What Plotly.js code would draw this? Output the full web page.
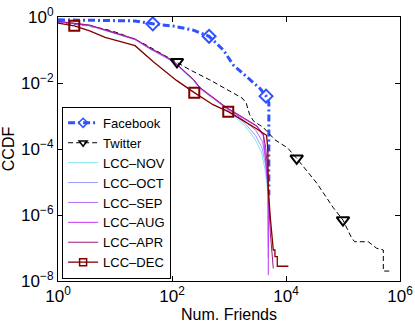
<!DOCTYPE html>
<html>
<head>
<meta charset="utf-8">
<script src="https://cdn.plot.ly/plotly-3.0.1.min.js"></script>
<style>
  html, body { margin: 0; padding: 0; background: #fff; }
  #wykres { width: 415px; height: 325px; }
</style>
</head>
<body>
<div id="wykres"></div>
<script>
// --- 1. DANE ---
const fbX = [1, 10, 22.5, 46, 105, 237, 447, 795, 1190, 2040, 3480, 4470, 5000, 5000];
const fbY = [0.82, 0.8, 0.76, 0.62, 0.53, 0.4, 0.26, 0.1, 0.035, 0.0155, 0.0069, 0.004, 0.0025, 4e-6];
const fbMarkX = [46, 447, 4470];
const fbMarkY = [0.62, 0.26, 0.004];

const twX = [1, 3, 6.7, 12, 31, 57, 122, 207, 465, 1045, 1700, 2000, 2300, 2700, 4000, 6400, 10700, 15400, 34600, 67000, 100000, 142000, 160000, 277000, 330000, 390000, 510000, 510000, 665000];
const twY = [0.68, 0.55, 0.43, 0.32, 0.16, 0.089, 0.044, 0.025, 0.0123, 0.0055, 0.0035, 0.0025, 0.0011, 7e-4, 4.5e-4, 1.9e-4, 1.07e-4, 5.2e-5, 9.3e-6, 1.7e-6, 7e-7, 2e-7, 1.55e-7, 1.55e-7, 1.2e-7, 9.8e-8, 8.7e-8, 2e-8, 2e-8];
const twMarkX = [122, 15400, 100000];
const twMarkY = [0.044, 5.2e-5, 7e-7];

const novX = [1, 2, 3.6, 7, 14, 22.5, 41, 70, 106, 160, 237, 310, 530, 910, 1900, 2860, 3700, 4270, 4800, 4890, 4900];
const novY = [0.71, 0.63, 0.54, 0.38, 0.265, 0.205, 0.107, 0.066, 0.043, 0.0225, 0.012, 0.0067, 0.0034, 0.0016, 5e-4, 2e-4, 8e-5, 2.5e-5, 5e-6, 1e-6, 2e-7];

const octX = [1, 2, 3.6, 7, 14, 22.5, 41, 70, 106, 160, 237, 310, 530, 910, 1900, 2900, 3800, 4350, 4800, 4890, 4900];
const octY = [0.715, 0.635, 0.545, 0.385, 0.268, 0.207, 0.108, 0.067, 0.0435, 0.0228, 0.0122, 0.0068, 0.00345, 0.00165, 6e-4, 2.6e-4, 1.1e-4, 3.5e-5, 7e-6, 1e-6, 1e-7];

const sepX = [1, 2, 3.6, 7, 14, 22.5, 41, 70, 106, 160, 237, 310, 530, 910, 1800, 3000, 3900, 4400, 4850, 4890, 4900];
const sepY = [0.72, 0.64, 0.55, 0.39, 0.27, 0.21, 0.11, 0.068, 0.044, 0.023, 0.0123, 0.0069, 0.0035, 0.0017, 7.5e-4, 3.6e-4, 1.6e-4, 5e-5, 8e-6, 5e-7, 5e-8];

const augX = [1, 2, 3.6, 7, 14, 22.5, 41, 70, 106, 160, 237, 310, 530, 910, 1780, 3080, 4000, 4270, 4560, 4890, 4890];
const augY = [0.73, 0.65, 0.56, 0.395, 0.275, 0.213, 0.112, 0.069, 0.045, 0.0235, 0.0126, 0.0071, 0.0036, 0.00172, 8.5e-4, 4.8e-4, 2.5e-4, 9.3e-5, 2.3e-5, 5.7e-6, 1.5e-8];

const aprX = [1, 2, 3.6, 7, 14, 22.5, 41, 70, 106, 160, 237, 310, 530, 910, 1780, 3080, 4000, 4400, 4700, 4890, 5300, 5990];
const aprY = [0.74, 0.66, 0.57, 0.4, 0.28, 0.217, 0.115, 0.071, 0.046, 0.024, 0.013, 0.0073, 0.0037, 0.0018, 9e-4, 5e-4, 2.8e-4, 1.1e-4, 3e-5, 5.7e-6, 3e-7, 2.4e-8];

const decX = [1, 1.93, 3.6, 6.7, 14, 22.5, 47, 120, 246, 525, 970, 2000, 3000, 4000, 4560, 4800, 4890, 5350, 5990, 5990, 6400, 6400, 7030, 7030, 11000];
const decY = [0.65, 0.54, 0.38, 0.24, 0.17, 0.135, 0.044, 0.012, 0.0051, 0.0022, 0.00135, 6.5e-4, 4.2e-4, 3e-4, 2.6e-4, 1e-4, 5.7e-6, 7e-7, 1.2e-7, 8.7e-8, 8.7e-8, 5.5e-8, 5.5e-8, 2.8e-8, 2.8e-8];
const decMarkX = [1.93, 246, 970];
const decMarkY = [0.54, 0.0051, 0.00135];

const xPotegi = [0, 2, 4, 6];
const yPotegi = [0, -2, -4, -6, -8];

// --- 2. STYLE ---
const FONT = "Liberation Sans, Arial, Helvetica, sans-serif";
const NIEBIESKI = "#2f52ff";
const BORDO = "#800000";

function linia(x, y, kolor, szer, dash) {
    return {
        x: x, y: y, type: "scatter", mode: "lines",
        line: { color: kolor, width: szer, dash: dash || "solid" },
        showlegend: false, hoverinfo: "skip"
    };
}

function znaczniki(x, y, kolor, symbol, rozmiar) {
    return {
        x: x, y: y, type: "scatter", mode: "markers",
        marker: { symbol: symbol, size: rozmiar, color: kolor, line: { color: kolor, width: 2 } },
        showlegend: false, hoverinfo: "skip"
    };
}

// wpis do legendy (bez punktow)
function legenda(nazwa, kolor, szer, dash, symbol, ranga) {
    const t = {
        x: [null], y: [null], type: "scatter", name: nazwa,
        mode: symbol ? "lines+markers" : "lines",
        line: { color: kolor, width: szer, dash: dash || "solid" },
        legendrank: ranga
    };
    if (symbol) t.marker = { symbol: symbol, size: 7, color: kolor, line: { color: kolor, width: 1.5 } };
    return t;
}

// --- 3. SLADY ---
const data = [
    linia(fbX, fbY, NIEBIESKI, 3, "7px,3px,2px,3px"),
    linia(twX, twY, "#000000", 1, "5px,3px"),
    linia(novX, novY, "#7fe5f2", 1),
    linia(octX, octY, "#9c9cff", 1),
    linia(sepX, sepY, "#b36bff", 1),
    linia(augX, augY, "#c433f5", 1),
    linia(aprX, aprY, "#a3157f", 1),
    linia(decX, decY, BORDO, 1.3),
    znaczniki(fbMarkX, fbMarkY, NIEBIESKI, "diamond-open", 10),
    znaczniki(twMarkX, twMarkY, "#000000", "triangle-down-open", 11),
    znaczniki(decMarkX, decMarkY, BORDO, "square-open", 10),
    legenda("Facebook", NIEBIESKI, 3, "7px,3px,2px,3px", "diamond-open", 1),
    legenda("Twitter", "#000000", 1, "5px,3px", "triangle-down-open", 2),
    legenda("LCC–NOV", "#7fe5f2", 1, null, null, 3),
    legenda("LCC–OCT", "#9c9cff", 1, null, null, 4),
    legenda("LCC–SEP", "#b36bff", 1, null, null, 5),
    legenda("LCC–AUG", "#c433f5", 1, null, null, 6),
    legenda("LCC–APR", "#a3157f", 1, null, null, 7),
    legenda("LCC–DEC", BORDO, 1.3, null, "square-open", 8)
];

// --- 4. UKLAD ---
const os = {
    type: "log",
    showline: true, linecolor: "#000", linewidth: 1, mirror: "ticks",
    ticks: "inside", ticklen: 5, tickcolor: "#000",
    showgrid: false, zeroline: false,
    tickfont: { family: FONT, size: 17, color: "#000" }
};

const layout = {
    width: 415, height: 325,
    margin: { l: 58, r: 15, t: 17, b: 44 },
    paper_bgcolor: "#fff", plot_bgcolor: "#fff",
    font: { family: FONT, color: "#000" },
    xaxis: Object.assign({}, os, {
        range: [0, 6],
        tickvals: xPotegi.map(p => Math.pow(10, p)),
        ticktext: xPotegi.map(p => "10<sup>" + p + "</sup>"),
        title: { text: "Num. Friends", font: { family: FONT, size: 16 }, standoff: 2 }
    }),
    yaxis: Object.assign({}, os, {
        range: [-8, 0],
        tickvals: yPotegi.map(p => Math.pow(10, p)),
        ticktext: yPotegi.map(p => "10<sup>" + String(p).replace("-", "−") + "</sup>"),
        title: { text: "CCDF", font: { family: FONT, size: 16 }, standoff: 4 }
    }),
    legend: {
        x: 0.012, y: 0.008, xanchor: "left", yanchor: "bottom",
        bgcolor: "#fff", bordercolor: "#000", borderwidth: 1,
        font: { family: FONT, size: 13, color: "#000" },
        itemwidth: 30, tracegroupgap: 0
    },
    showlegend: true
};

Plotly.newPlot("wykres", data, layout, { staticPlot: true, displayModeBar: false });
</script>
</body>
</html>
